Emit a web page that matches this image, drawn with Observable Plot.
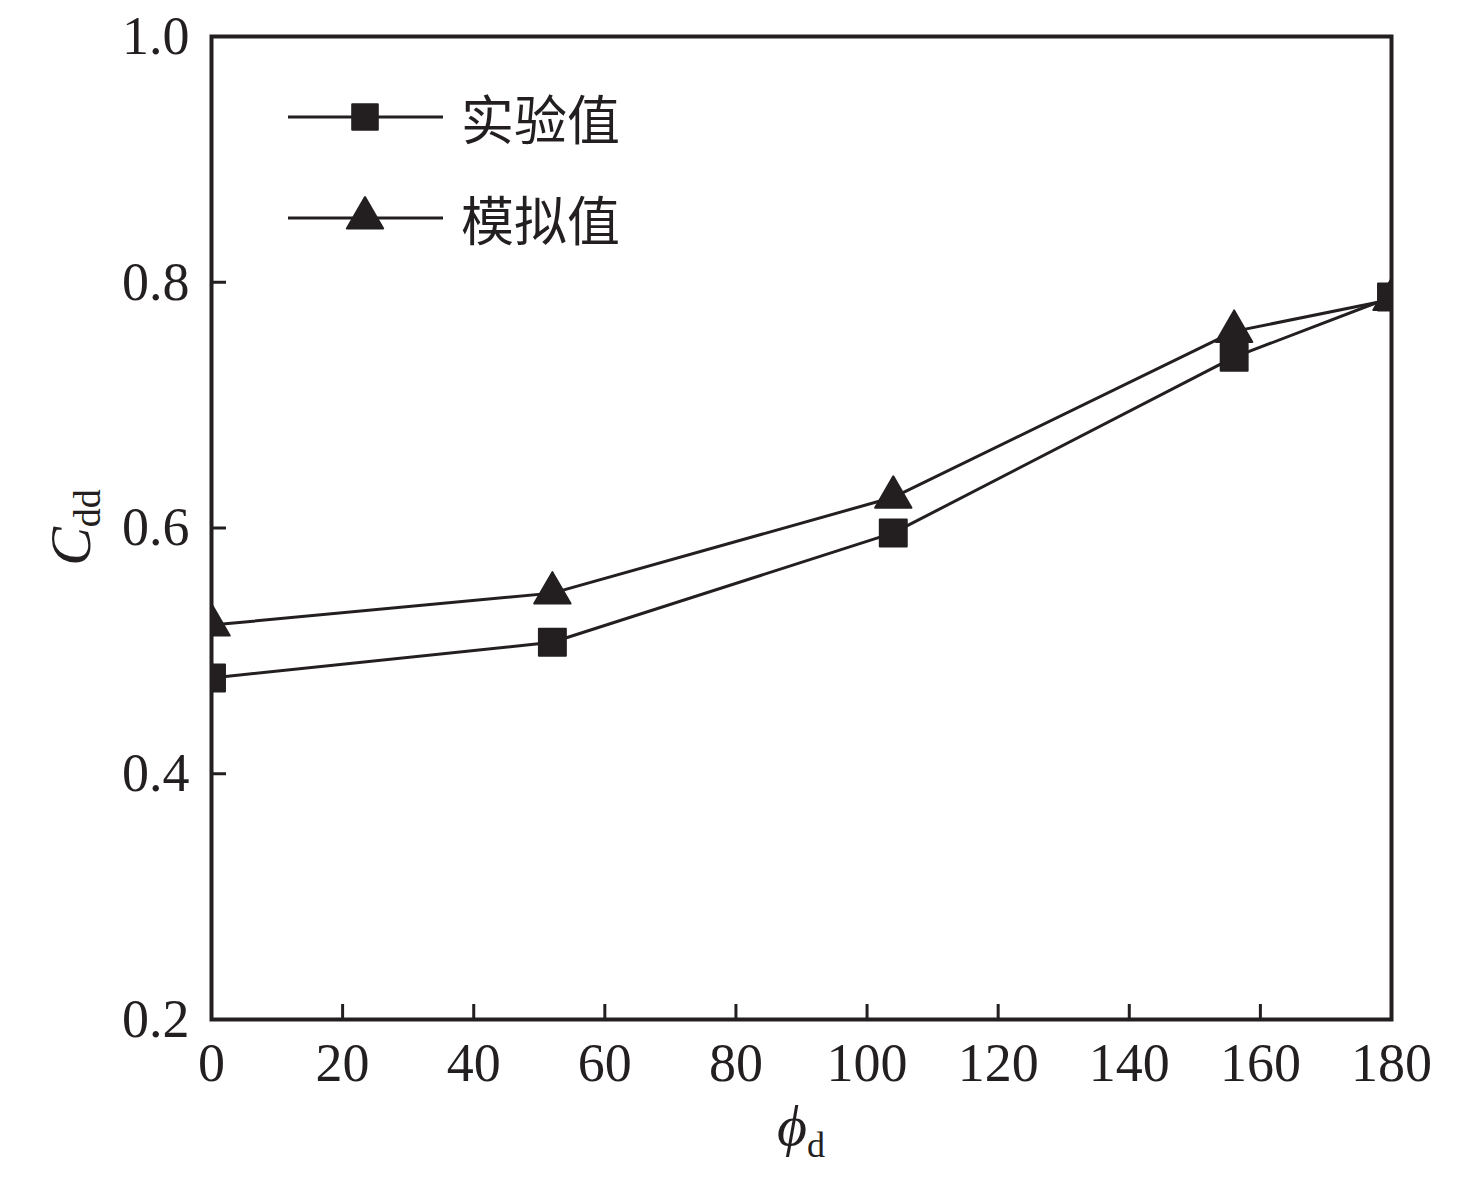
<!DOCTYPE html>
<html><head><meta charset="utf-8">
<script src="https://cdn.jsdelivr.net/npm/d3@7"></script>
<script src="https://cdn.jsdelivr.net/npm/@observablehq/plot@0.6"></script>
<style>
body{margin:0;background:#fff;}
#wrap{position:relative;width:1476px;height:1179px;}
#legend{position:absolute;left:0;top:0;}
</style></head><body><div id="wrap"></div>
<script>
// ---- data ----
const phi = [0, 52, 104, 156, 180];
const experimental = [0.478, 0.507, 0.596, 0.739, 0.788];
const simulated = [0.521, 0.547, 0.625, 0.760, 0.786];
const seriesNames = ["实验值", "模拟值"];
const xTicks = [0, 20, 40, 60, 80, 100, 120, 140, 160, 180];
const yTicks = [0.2, 0.4, 0.6, 0.8, 1.0];
const yTickLabels = ["0.2", "0.4", "0.6", "0.8", "1.0"];
const xTitle = ["ϕ", "d"];
const yTitle = ["C", "dd"];

const expData = phi.map((x, i) => ({x, y: experimental[i]}));
const simData = phi.map((x, i) => ({x, y: simulated[i]}));

const ink = "#231f20";
const serif = "'Liberation Serif', 'Times New Roman', 'DejaVu Serif', serif";
const cjk = "'Noto Sans CJK SC', sans-serif";
const rSquare = 15.2, rTriangle = 13.5;

const plot = Plot.plot({
  width: 1476, height: 1179,
  marginLeft: 211, marginRight: 85, marginTop: 36, marginBottom: 160,
  x: {domain: [0, 180], label: null},
  y: {domain: [0.2, 1.0], label: null},
  style: {fontFamily: serif, fontSize: "54px", color: ink, background: "#fff"},
  marks: [
    Plot.line(simData, {x: "x", y: "y", stroke: ink, strokeWidth: 3}),
    Plot.line(expData, {x: "x", y: "y", stroke: ink, strokeWidth: 3}),
    Plot.dot(simData, {x: "x", y: "y", symbol: "triangle", r: rTriangle, fill: ink, stroke: ink, strokeWidth: 2, strokeLinejoin: "round", clip: true}),
    Plot.dot(expData, {x: "x", y: "y", symbol: "square", r: rSquare, fill: ink, stroke: ink, strokeWidth: 2, strokeLinejoin: "round", clip: true}),
    Plot.frame({stroke: ink, strokeWidth: 4}),
    Plot.axisX(xTicks, {tickSize: -15, strokeWidth: 3, stroke: ink, tickFormat: () => "", label: null}),
    Plot.axisX(xTicks, {tickSize: 0, tickPadding: 23, tickFormat: d => String(d), label: null, fill: ink}),
    Plot.axisY(yTicks, {tickSize: -15, strokeWidth: 3, stroke: ink, tickFormat: () => "", label: null}),
    Plot.axisY(yTicks, {tickSize: 0, tickPadding: 22, tickFormat: d => yTickLabels[yTicks.indexOf(d)], label: null, fill: ink})
  ]
});
document.getElementById("wrap").appendChild(plot);

// axis titles
const sx = plot.scale("x"), sy = plot.scale("y");
const svg = d3.select(plot);
const cx = (sx.apply(0) + sx.apply(180)) / 2;
const cy = (sy.apply(0.2) + sy.apply(1.0)) / 2;
const xt = svg.append("text").attr("x", cx).attr("y", 1145).attr("text-anchor", "middle")
  .attr("font-family", serif).attr("fill", ink);
xt.append("tspan").attr("font-style", "italic").attr("font-size", 58).text(xTitle[0]);
xt.append("tspan").attr("font-size", 36).attr("dy", 12).text(xTitle[1]);
const yt = svg.append("text").attr("transform", `translate(90,${cy}) rotate(-90)`).attr("text-anchor", "middle")
  .attr("font-family", serif).attr("fill", ink);
yt.append("tspan").attr("font-style", "italic").attr("font-size", 58).text(yTitle[0]);
yt.append("tspan").attr("font-size", 38).attr("dy", 10).text(yTitle[1]);

// legend overlay
const leg = d3.select("#wrap").append("svg").attr("id", "legend").attr("width", 1476).attr("height", 300);
const rows = [
  {name: seriesNames[0], symbol: d3.symbolSquare, r: rSquare * 0.95, y: 117},
  {name: seriesNames[1], symbol: d3.symbolTriangle, r: rTriangle, y: 218}
];
rows.forEach(row => {
  const g = leg.append("g");
  g.append("line").attr("x1", 288).attr("x2", 443).attr("y1", row.y).attr("y2", row.y)
    .attr("stroke", ink).attr("stroke-width", 3);
  g.append("path").attr("transform", `translate(365,${row.y})`)
    .attr("d", d3.symbol(row.symbol, Math.PI * row.r * row.r)())
    .attr("fill", ink).attr("stroke", ink).attr("stroke-width", 2).attr("stroke-linejoin", "round");
  g.append("text").attr("x", 461).attr("y", row.y + 23).attr("font-family", cjk).attr("font-size", 53)
    .attr("fill", ink).text(row.name);
});
</script></body></html>
